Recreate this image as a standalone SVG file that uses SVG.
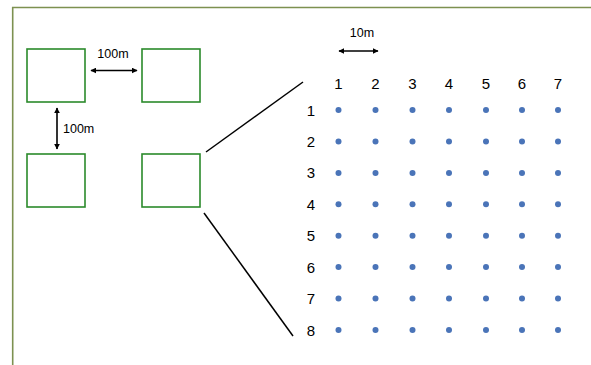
<svg xmlns="http://www.w3.org/2000/svg" width="591" height="365" viewBox="0 0 591 365">
<defs>
<marker id="ah" viewBox="0 0 10 10" refX="9" refY="5" markerWidth="6" markerHeight="6" orient="auto-start-reverse" markerUnits="userSpaceOnUse">
<path d="M0,0 L10,5 L0,10 z" fill="#000"/>
</marker>
<style>
.plot{fill:#fff;stroke:#2b8a2b;stroke-width:1.6}
.dim{stroke:#000;stroke-width:1.6;marker-start:url(#ah);marker-end:url(#ah)}
.zoom{stroke:#000;stroke-width:1.5}
.t{font-family:"Liberation Sans",Arial,sans-serif;fill:#000}
.s{font-size:12.5px}
.n{font-size:15px;text-anchor:middle}
.dot{fill:#4a74b8}
</style>
</defs>
<rect width="591" height="365" fill="#fff"/>
<path d="M12.7,365 V7.5 H591" fill="none" stroke="#7d9150" stroke-width="1.6"/>
<g id="plot1"><rect class="plot" x="27" y="49" width="58" height="53"/></g>
<g id="plot2"><rect class="plot" x="142" y="49" width="58" height="53"/></g>
<g id="plot3"><rect class="plot" x="27" y="154" width="58" height="53"/></g>
<g id="plot4"><rect class="plot" x="142" y="154" width="58" height="53"/></g>
<g id="connectors">
<line class="dim" x1="91" y1="70.5" x2="137" y2="70.5"/>
<line class="dim" x1="57" y1="108" x2="57" y2="149"/>
<line class="dim" x1="339" y1="51" x2="378" y2="51"/>
<line class="zoom" x1="206" y1="152" x2="303" y2="82"/>
<line class="zoom" x1="204" y1="213" x2="293" y2="336"/>
</g>
<g id="labels">
<text class="t s" x="113" y="58" text-anchor="middle">100m</text>
<text class="t s" x="63" y="133">100m</text>
<text class="t s" x="362" y="37" text-anchor="middle">10m</text>
</g>
<g id="grid">
<g class="t n">
<text x="338.5" y="89">1</text><text x="375.5" y="89">2</text><text x="412.5" y="89">3</text><text x="449" y="89">4</text><text x="486" y="89">5</text><text x="522" y="89">6</text><text x="558" y="89">7</text>
<text x="311" y="115.5">1</text><text x="311" y="146.9">2</text><text x="311" y="178.4">3</text><text x="311" y="209.8">4</text><text x="311" y="241.2">5</text><text x="311" y="272.6">6</text><text x="311" y="304.1">7</text><text x="311" y="335.5">8</text>
</g>
<g id="dots" class="dot">
<circle cx="338.5" cy="110" r="3"/><circle cx="375.5" cy="110" r="3"/><circle cx="412.5" cy="110" r="3"/><circle cx="449" cy="110" r="3"/><circle cx="486" cy="110" r="3"/><circle cx="522" cy="110" r="3"/><circle cx="558" cy="110" r="3"/>
<circle cx="338.5" cy="141.4" r="3"/><circle cx="375.5" cy="141.4" r="3"/><circle cx="412.5" cy="141.4" r="3"/><circle cx="449" cy="141.4" r="3"/><circle cx="486" cy="141.4" r="3"/><circle cx="522" cy="141.4" r="3"/><circle cx="558" cy="141.4" r="3"/>
<circle cx="338.5" cy="172.9" r="3"/><circle cx="375.5" cy="172.9" r="3"/><circle cx="412.5" cy="172.9" r="3"/><circle cx="449" cy="172.9" r="3"/><circle cx="486" cy="172.9" r="3"/><circle cx="522" cy="172.9" r="3"/><circle cx="558" cy="172.9" r="3"/>
<circle cx="338.5" cy="204.3" r="3"/><circle cx="375.5" cy="204.3" r="3"/><circle cx="412.5" cy="204.3" r="3"/><circle cx="449" cy="204.3" r="3"/><circle cx="486" cy="204.3" r="3"/><circle cx="522" cy="204.3" r="3"/><circle cx="558" cy="204.3" r="3"/>
<circle cx="338.5" cy="235.7" r="3"/><circle cx="375.5" cy="235.7" r="3"/><circle cx="412.5" cy="235.7" r="3"/><circle cx="449" cy="235.7" r="3"/><circle cx="486" cy="235.7" r="3"/><circle cx="522" cy="235.7" r="3"/><circle cx="558" cy="235.7" r="3"/>
<circle cx="338.5" cy="267.1" r="3"/><circle cx="375.5" cy="267.1" r="3"/><circle cx="412.5" cy="267.1" r="3"/><circle cx="449" cy="267.1" r="3"/><circle cx="486" cy="267.1" r="3"/><circle cx="522" cy="267.1" r="3"/><circle cx="558" cy="267.1" r="3"/>
<circle cx="338.5" cy="298.6" r="3"/><circle cx="375.5" cy="298.6" r="3"/><circle cx="412.5" cy="298.6" r="3"/><circle cx="449" cy="298.6" r="3"/><circle cx="486" cy="298.6" r="3"/><circle cx="522" cy="298.6" r="3"/><circle cx="558" cy="298.6" r="3"/>
<circle cx="338.5" cy="330" r="3"/><circle cx="375.5" cy="330" r="3"/><circle cx="412.5" cy="330" r="3"/><circle cx="449" cy="330" r="3"/><circle cx="486" cy="330" r="3"/><circle cx="522" cy="330" r="3"/><circle cx="558" cy="330" r="3"/>
</g>
</g>
</svg>
